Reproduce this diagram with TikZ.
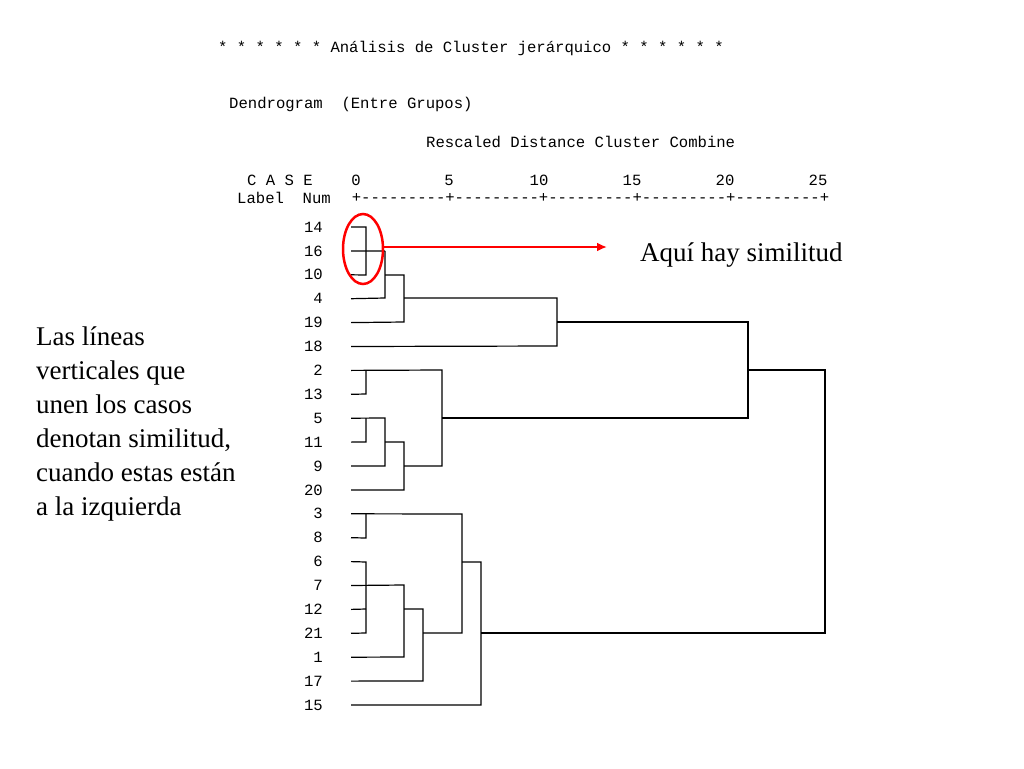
\documentclass[tikz,border=0pt]{standalone}
\usetikzlibrary{shapes.geometric,arrows.meta}
\usepackage{fontspec}
\setmainfont{Liberation Serif}
\newfontfamily\mono{Liberation Mono}
\begin{document}
\begin{tikzpicture}[x=1pt,y=-1pt,
  mt/.style={font=\mono\fontsize{15.6}{14}\selectfont,inner sep=0pt},
  lab/.style={mt,anchor=east},
  dl/.style={line width=1.2pt,black},
  txt/.style={font=\fontsize{27}{34}\selectfont,inner sep=0pt}]
\useasboundingbox (0,0) rectangle (1024,768);
\node[mt,anchor=west] (title) at (218,48) {* * * * * * Análisis de Cluster jerárquico * * * * * *};
\node[mt,anchor=west] (dend) at (229,104) {Dendrogram\ \ (Entre Grupos)};
\node[mt,anchor=west] (resc) at (426,142) {Rescaled Distance Cluster Combine};
\node[mt,anchor=west] (case) at (247,180) {C A S E};
\node[mt,anchor=west] (labn) at (237,198) {Label\ \ Num};
\foreach \v/\x in {0/356,5/449,10/539,15/632,20/725,25/818}
  \node[mt] (s\v) at (\x,180) {\v};
\node[mt,anchor=center] (ruler) at (590.5,198) {+---------+---------+---------+---------+---------+};
\foreach \n [count=\i from 0] in {14,16,10,4,19,18,2,13,5,11,9,20,3,8,6,7,12,21,1,17,15}{
  \pgfmathsetmacro{\yy}{227+23.9*\i}
  \node[lab] (c\n) at (323,\yy) {\n};
  \coordinate (r\n) at (351,\yy);
}
\draw[dl] (r14) -- (366,227) -- (366,275) -- (r10);
\draw[dl] (r16) -- (385,251);
\draw[dl] (385,251) -- (385,298) -- (r4);
\draw[dl] (385,275) -- (404,275) -- (404,322) -- (r19);
\draw[dl] (404,298) -- (557,298) -- (557,346) -- (r18);
\draw[dl] (557,322) -- (748,322) -- (748,418) -- (442,418);
\draw[dl] (r2) -- (442,370) -- (442,466) -- (404,466);
\draw[dl] (366,370) -- (366,394) -- (r13);
\draw[dl] (r5) -- (385,418) -- (385,466) -- (r9);
\draw[dl] (366,418) -- (366,442) -- (r11);
\draw[dl] (385,442) -- (404,442) -- (404,490) -- (r20);
\draw[dl] (r3) -- (462,514) -- (462,633) -- (423,633);
\draw[dl] (366,514) -- (366,538) -- (r8);
\draw[dl] (r6) -- (366,562) -- (366,633) -- (r21);
\draw[dl] (r12) -- (366,609);
\draw[dl] (r7) -- (404,585) -- (404,657) -- (r1);
\draw[dl] (404,609) -- (423,609) -- (423,681) -- (r17);
\draw[dl] (462,562) -- (481,562) -- (481,705) -- (r15);
\draw[dl] (481,633) -- (825,633) -- (825,370) -- (748,370);
\node[draw=red,line width=2.5pt,ellipse,minimum width=40pt,minimum height=70pt,inner sep=0pt] (ell) at (363,249) {};
\coordinate (arrend) at (607,247);
\draw[red,line width=2.5pt,-{Latex[length=10pt,width=9pt]}] (ell.east |- 0,247) -- (arrend);
\node[txt,anchor=west] (aqui) at (640,255) {Aquí hay similitud};
\node[txt,anchor=north west,align=left] (las) at (36,327) {Las líneas\\verticales que\\unen los casos\\denotan similitud,\\cuando estas están\\a la izquierda};
\end{tikzpicture}
\end{document}
